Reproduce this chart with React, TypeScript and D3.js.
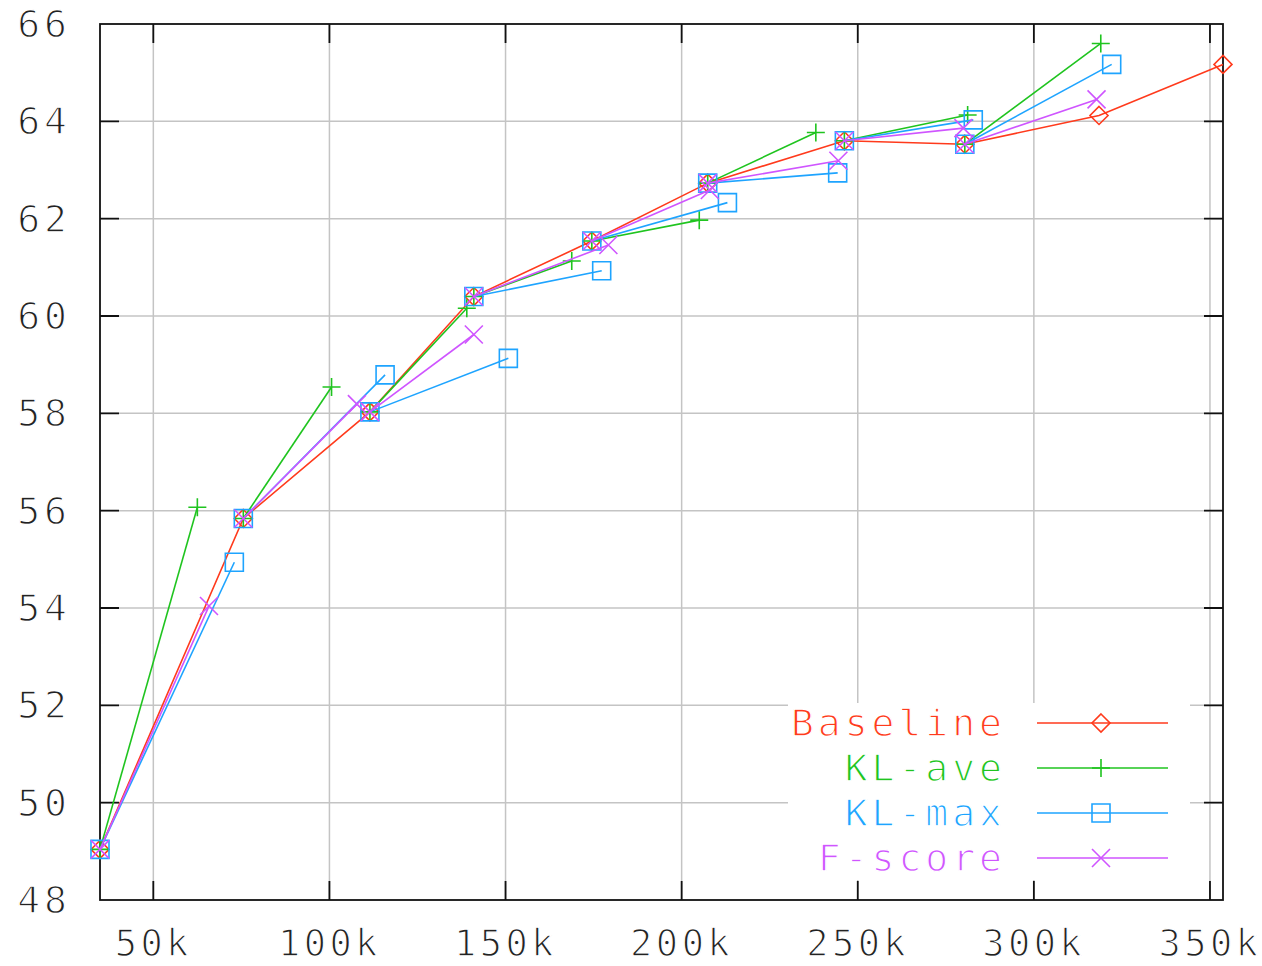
import React, { useEffect, useRef } from 'react';
import * as d3 from 'd3';

// baseline run; every other method starts each step from a baseline point
const baselineX = [34860, 75550, 111500, 141000, 174500, 207400, 246200, 280400, 318500, 353700];
const baselineY = [49.04, 55.84, 58.03, 60.4, 61.54, 62.73, 63.6, 63.53, 64.12, 65.17];

// end points of each step (start = baseline point with same index)
const klAveX = [62500, 100600, 139000, 168800, 205000, 238100, 281200, 319000];
const klAveY = [56.07, 58.54, 60.16, 61.13, 61.97, 63.77, 64.13, 65.6];

const klMaxX = [73000, 115800, 150800, 177300, 213000, 244300, 282800, 322100];
const klMaxY = [54.94, 58.79, 59.13, 60.93, 62.33, 62.94, 64.03, 65.17];

const fScoreX = [65800, 107800, 141000, 179200, 208000, 244500, 280000, 317800];
const fScoreY = [54.04, 58.19, 59.62, 61.46, 62.59, 63.19, 63.86, 64.45];

const xTicks = [50000, 100000, 150000, 200000, 250000, 300000, 350000];
const yTicks = [48, 50, 52, 54, 56, 58, 60, 62, 64, 66];

const seriesNames = ['Baseline', 'KL-ave', 'KL-max', 'F-score'];
const seriesColors = ['#ff3a1c', '#1fc41f', '#1ea4ff', '#cf55ff'];
const seriesMarkers = ['diamond', 'plus', 'square', 'cross'];

const FONT = '"DejaVu Sans Mono", "Liberation Mono", monospace';

function drawMarker(g, type, cx, cy, color) {
  const s = 9;
  let d = '';
  if (type === 'diamond') d = `M${cx},${cy - s}L${cx + s},${cy}L${cx},${cy + s}L${cx - s},${cy}Z`;
  if (type === 'square') d = `M${cx - s},${cy - s}H${cx + s}V${cy + s}H${cx - s}Z`;
  if (type === 'plus') d = `M${cx - s},${cy}H${cx + s}M${cx},${cy - s}V${cy + s}`;
  if (type === 'cross') d = `M${cx - s},${cy - s}L${cx + s},${cy + s}M${cx - s},${cy + s}L${cx + s},${cy - s}`;
  g.append('path')
    .attr('d', d)
    .attr('fill', 'none')
    .attr('stroke', color)
    .attr('stroke-width', 1.6);
}

export default function App() {
  const svgRef = useRef(null);

  useEffect(() => {
    const width = 1262;
    const height = 966;
    const left = 100, right = 1223, top = 24, bottom = 900;

    const svg = d3.select(svgRef.current);
    svg.selectAll('*').remove();
    svg.attr('width', width).attr('height', height);

    svg.append('rect').attr('width', width).attr('height', height).attr('fill', '#fff');

    const x = d3.scaleLinear().domain(d3.extent(baselineX)).range([left, right]);
    const y = d3.scaleLinear().domain([48, 66]).range([bottom, top]);

    // grid
    const grid = svg.append('g').attr('stroke', '#c4c4c4').attr('stroke-width', 1.5);
    grid.selectAll('.gx').data(xTicks).join('line')
      .attr('x1', (d) => x(d)).attr('x2', (d) => x(d))
      .attr('y1', top).attr('y2', bottom);
    grid.selectAll('.gy').data(yTicks.slice(1, -1)).join('line')
      .attr('y1', (d) => y(d)).attr('y2', (d) => y(d))
      .attr('x1', left).attr('x2', right);

    // legend background (opaque key)
    svg.append('rect')
      .attr('x', 788).attr('y', 703)
      .attr('width', 402).attr('height', 177)
      .attr('fill', '#fff');

    // border + mirrored inward ticks
    const axes = svg.append('g').attr('stroke', '#111').attr('stroke-width', 1.8);
    axes.append('rect')
      .attr('x', left).attr('y', top)
      .attr('width', right - left).attr('height', bottom - top)
      .attr('fill', 'none');
    const tl = 19;
    axes.selectAll('.tb').data(xTicks).join('path')
      .attr('d', (d) => `M${x(d)},${bottom}v${-tl}M${x(d)},${top}v${tl}`);
    axes.selectAll('.tl').data(yTicks.slice(1, -1)).join('path')
      .attr('d', (d) => `M${left},${y(d)}h${tl}M${right},${y(d)}h${-tl}`);

    // tick labels (white outline thins the glyphs a bit)
    const labels = svg.append('g')
      .attr('font-family', FONT)
      .attr('fill', '#222')
      .attr('stroke', '#fff')
      .attr('stroke-width', 1.3);
    labels.selectAll('.ly').data(yTicks).join('text')
      .attr('font-size', 38)
      .attr('letter-spacing', 4)
      .attr('x', 71)
      .attr('y', (d) => y(d))
      .attr('text-anchor', 'end')
      .attr('dominant-baseline', 'central')
      .text((d) => d);
    labels.selectAll('.lx').data(xTicks).join('text')
      .attr('font-size', 37)
      .attr('letter-spacing', 3.5)
      .attr('x', (d) => x(d))
      .attr('y', 943)
      .attr('text-anchor', 'middle')
      .attr('dominant-baseline', 'central')
      .text((d) => `${d / 1000}k`);

    const line = d3.line().x((d) => x(d[0])).y((d) => y(d[1]));

    // baseline: one connected run
    const basePts = baselineX.map((v, i) => [v, baselineY[i]]);
    const gBase = svg.append('g');
    gBase.append('path')
      .attr('d', line(basePts))
      .attr('fill', 'none')
      .attr('stroke', seriesColors[0])
      .attr('stroke-width', 1.6);
    basePts.forEach((p) => drawMarker(gBase, seriesMarkers[0], x(p[0]), y(p[1]), seriesColors[0]));

    // other methods: one step per baseline point
    const methods = [
      [klAveX, klAveY],
      [klMaxX, klMaxY],
      [fScoreX, fScoreY],
    ];
    methods.forEach(([mx, my], k) => {
      const color = seriesColors[k + 1];
      const g = svg.append('g');
      mx.forEach((v, i) => {
        const seg = [[baselineX[i], baselineY[i]], [v, my[i]]];
        g.append('path')
          .attr('d', line(seg))
          .attr('fill', 'none')
          .attr('stroke', color)
          .attr('stroke-width', 1.6);
        seg.forEach((p) => drawMarker(g, seriesMarkers[k + 1], x(p[0]), y(p[1]), color));
      });
    });

    // legend
    const legend = svg.append('g').attr('font-family', FONT).attr('font-size', 38).attr('letter-spacing', 4);
    seriesNames.forEach((name, i) => {
      const ly = 723 + i * 45;
      legend.append('text')
        .attr('x', 1006)
        .attr('y', ly)
        .attr('text-anchor', 'end')
        .attr('dominant-baseline', 'central')
        .attr('fill', seriesColors[i])
        .attr('stroke', '#fff')
        .attr('stroke-width', 1.3)
        .text(name);
      legend.append('line')
        .attr('x1', 1037).attr('x2', 1168)
        .attr('y1', ly).attr('y2', ly)
        .attr('stroke', seriesColors[i])
        .attr('stroke-width', 1.6);
      drawMarker(legend, seriesMarkers[i], 1101, ly, seriesColors[i]);
    });
  }, []);

  return (
    <div style={{ position: 'absolute', left: 0, top: 0 }}>
      <svg ref={svgRef}></svg>
    </div>
  );
}
